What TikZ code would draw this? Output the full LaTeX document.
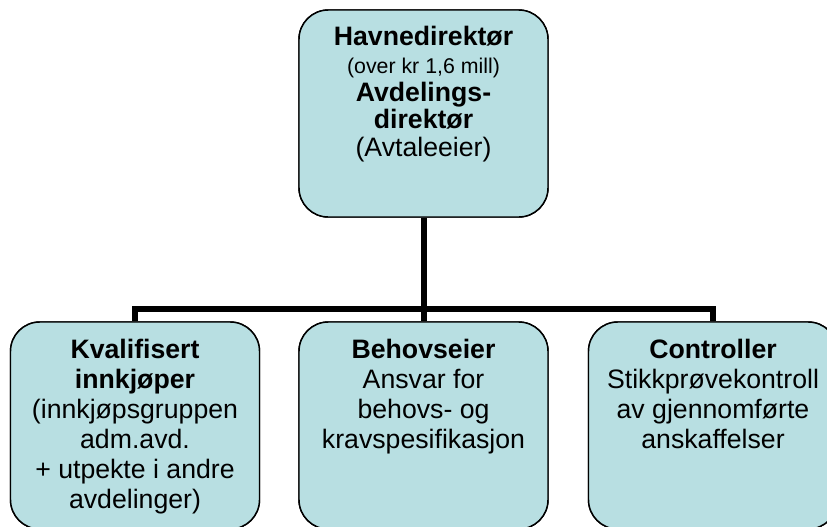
\documentclass[tikz,border=0pt]{standalone}
\usepackage{fontspec}
\setmainfont{Liberation Sans}
\definecolor{boxfill}{RGB}{184,223,226}
\begin{document}
\begin{tikzpicture}[x=0.75pt,y=-0.75pt,
  box/.style={draw=black, line width=1.1pt, fill=boxfill, rounded corners=22pt,
    minimum width=249*0.75pt, minimum height=207*0.75pt, inner sep=0pt},
  txt/.style={align=center, inner sep=0pt, anchor=north},
  topfont/.style={font=\fontsize{20}{20.8}\selectfont},
  botfont/.style={font=\fontsize{20}{22.5}\selectfont},
  conn/.style={draw=black, line width=4.5pt, line join=miter}]
\useasboundingbox (0,0) rectangle (827,526);
\clip (0,0) rectangle (827,526);
% connectors
\coordinate (bus) at (423.5,309);
\node[box] (top) at (423.5,113.5) {};
\node[box] (left) at (135,425.5) {};
\node[box] (mid) at (423.5,425.5) {};
\node[box] (right) at (713,425.5) {};
\draw[conn] (top.south) -- (bus);
\draw[conn] (left.north) |- (bus) -| (right.north);
\draw[conn] (bus) -- (mid.north);
\node[box] at (top) {};
\node[box] at (left) {};
\node[box] at (mid) {};
\node[box] at (right) {};
% texts
\node[txt, topfont] (toptxt) at (423.5,26) {\textbf{Havnedirektør}\\{\fontsize{16}{20.8}\selectfont (over kr 1,6 mill)}\\\textbf{Avdelings-}\\\textbf{direktør}\\(Avtaleeier)};
\node[txt, botfont] (lefttxt) at (135,339) {\textbf{Kvalifisert}\\\textbf{innkjøper}\\(innkjøpsgruppen\\adm.avd.\\+ utpekte i andre\\avdelinger)};
\node[txt, botfont] (midtxt) at (423.5,339) {\textbf{Behovseier}\\Ansvar for\\behovs- og\\kravspesifikasjon};
\node[txt, botfont] (righttxt) at (713,339) {\textbf{Controller}\\Stikkprøvekontroll\\av gjennomførte\\anskaffelser};
\end{tikzpicture}
\end{document}
